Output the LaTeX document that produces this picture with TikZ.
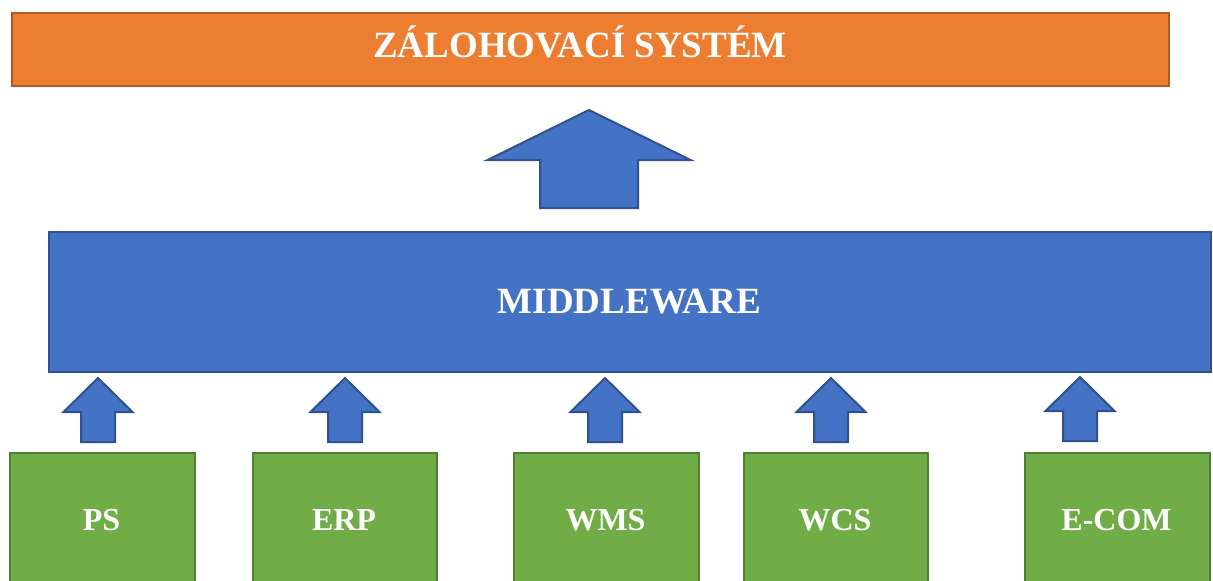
\documentclass[tikz,border=0pt]{standalone}
\usepackage{fontspec}
\setmainfont{Liberation Serif}
\definecolor{orangefill}{HTML}{ED7D31}
\definecolor{orangeline}{HTML}{AE5A21}
\definecolor{bluefill}{HTML}{4472C4}
\definecolor{blueline}{HTML}{2F528F}
\definecolor{greenfill}{HTML}{70AD47}
\definecolor{greenline}{HTML}{507E32}
\tikzset{
  box/.style={draw, line width=2pt, rectangle, inner sep=0pt, anchor=north west},
  orangebox/.style={box, fill=orangefill, draw=orangeline},
  bluebox/.style={box, fill=bluefill, draw=blueline},
  greenbox/.style={box, fill=greenfill, draw=greenline},
  label/.style={text=white, font=\bfseries\fontsize{#1}{#1}\selectfont, anchor=base, inner sep=0pt},
  arrowshape/.style={fill=bluefill, draw=blueline, line width=2pt, line join=miter},
  smallup/.pic={\draw[arrowshape] (0,0) -- (34.5,34) -- (17,34) -- (17,64) -- (-17,64) -- (-17,34) -- (-34.5,34) -- cycle;},
  bigup/.pic={\draw[arrowshape] (0,0) -- (101.5,50) -- (49,50) -- (49,98) -- (-49,98) -- (-49,50) -- (-101.5,50) -- cycle;}
}
\begin{document}
\begin{tikzpicture}[x=1pt,y=-1pt]
\useasboundingbox (0,0) rectangle (1213,581);
\clip (0,0) rectangle (1213,581);
% top bar
\node[orangebox, minimum width=1157pt, minimum height=73pt] (zs) at (11,12) {};
\node[label=37] (zst) at (580,57) {ZÁLOHOVACÍ SYSTÉM};
% big arrow
\pic at (589,110) {bigup};
% middleware
\node[bluebox, minimum width=1162pt, minimum height=140pt] (mw) at (48,231) {};
\node[label=37] (mwt) at (629.5,313) {MIDDLEWARE};
% bottom boxes
\node[greenbox, minimum width=185pt, minimum height=160pt] (ps) at (9,452) {};
\node[greenbox, minimum width=184pt, minimum height=160pt] (erp) at (252,452) {};
\node[greenbox, minimum width=185pt, minimum height=160pt] (wms) at (513,452) {};
\node[greenbox, minimum width=184pt, minimum height=160pt] (wcs) at (743,452) {};
\node[greenbox, minimum width=185pt, minimum height=160pt] (ecom) at (1024,452) {};
\node[label=32] (pst) at (101.5,530) {PS};
\node[label=32] (erpt) at (344,530) {ERP};
\node[label=32] (wmst) at (605.5,530) {WMS};
\node[label=32] (wcst) at (835,530) {WCS};
\node[label=32] (ecomt) at (1116.5,530) {E-COM};
% small arrows
\pic at (98,378) {smallup};
\pic at (345,378) {smallup};
\pic at (605,378) {smallup};
\pic at (831,378) {smallup};
\pic at (1080,377) {smallup};
\end{tikzpicture}
\end{document}
